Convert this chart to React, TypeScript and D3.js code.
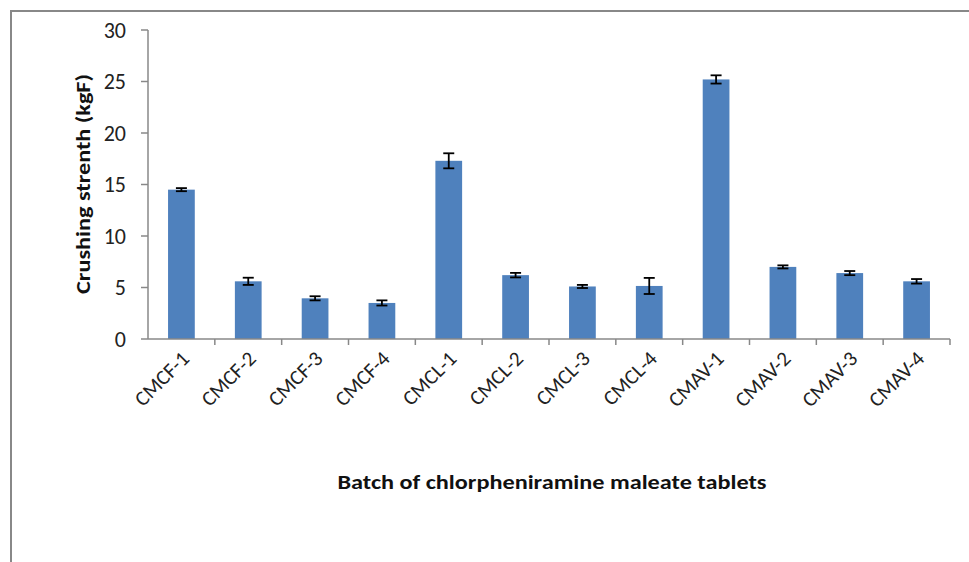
import React from "react";
import * as d3 from "d3";

const categories = ["CMCF-1","CMCF-2","CMCF-3","CMCF-4","CMCL-1","CMCL-2","CMCL-3","CMCL-4","CMAV-1","CMAV-2","CMAV-3","CMAV-4"];
const values = [14.5, 5.6, 3.95, 3.5, 17.3, 6.2, 5.1, 5.15, 25.2, 7.0, 6.4, 5.6];
const errors = [0.15, 0.35, 0.2, 0.25, 0.73, 0.22, 0.15, 0.78, 0.4, 0.15, 0.2, 0.22];
const yTicks = [0, 5, 10, 15, 20, 25, 30];

const W = 969, H = 562;
const x0 = 148, x1 = 950, yTop = 30, yBot = 339;

export default function App() {
  const x = d3.scaleBand<string>().domain(categories).range([x0, x1]).paddingInner(0.6).paddingOuter(0.3);
  const xb = d3.scaleBand<string>().domain(categories).range([x0, x1]);
  const y = d3.scaleLinear().domain([0, 30]).range([yBot, yTop]);
  const font = "Carlito, 'Open Sans', 'Liberation Sans', sans-serif";
  return (
    <svg width={W} height={H} style={{ position: "absolute", left: 0, top: 0, background: "#fff" }}>
      <rect x={11} y={11} width={W + 20} height={H + 20} fill="none" stroke="#888" strokeWidth={2} />
      {/* y axis */}
      <line x1={x0} x2={x0} y1={yTop} y2={yBot} stroke="#888" strokeWidth={1.5} />
      {yTicks.map(t => (
        <g key={t}>
          <line x1={x0 - 7} x2={x0} y1={y(t)} y2={y(t)} stroke="#888" strokeWidth={1.5} />
          <text x={x0 - 22} y={y(t)} dy="0.35em" textAnchor="end" fontSize={22} fontFamily={font} fill="#222">{t}</text>
        </g>
      ))}
      {/* bars */}
      {categories.map((c, i) => {
        const bx = x(c)!;
        const bw = x.bandwidth();
        const cx = bx + bw / 2;
        return (
          <g key={c}>
            <rect x={bx} y={y(values[i])} width={bw} height={yBot - y(values[i])} fill="#4F81BD" />
            <line x1={cx} x2={cx} y1={y(values[i] + errors[i])} y2={y(values[i] - errors[i])} stroke="#000" strokeWidth={1.8} />
            <line x1={cx - 5.5} x2={cx + 5.5} y1={y(values[i] + errors[i])} y2={y(values[i] + errors[i])} stroke="#000" strokeWidth={1.8} />
            <line x1={cx - 5.5} x2={cx + 5.5} y1={y(values[i] - errors[i])} y2={y(values[i] - errors[i])} stroke="#000" strokeWidth={1.8} />
          </g>
        );
      })}
      {/* x axis */}
      <line x1={x0} x2={x1} y1={yBot} y2={yBot} stroke="#888" strokeWidth={1.5} />
      {categories.map((c, i) => (
        <line key={"t" + c} x1={xb(c)! + xb.bandwidth()} x2={xb(c)! + xb.bandwidth()} y1={yBot} y2={yBot + 6} stroke="#888" strokeWidth={1.5} />
      ))}
      {categories.map(c => {
        const cx = xb(c)! + xb.bandwidth() / 2 + 9;
        const ty = yBot + 21;
        return (
          <text key={"l" + c} x={cx} y={ty} transform={`rotate(-45 ${cx} ${ty})`} textAnchor="end" fontSize={21} fontFamily={font} fill="#222">{c}</text>
        );
      })}
      <text x={552} y={489} textAnchor="middle" fontSize={20} fontWeight="bold" fontFamily={font} fill="#111" textLength={429} lengthAdjust="spacingAndGlyphs">Batch of chlorpheniramine maleate tablets</text>
      <text transform={`translate(90,184) rotate(-90)`} textAnchor="middle" fontSize={20} fontWeight="bold" fontFamily={font} fill="#111" textLength={220} lengthAdjust="spacingAndGlyphs">Crushing strenth (kgF)</text>
    </svg>
  );
}
